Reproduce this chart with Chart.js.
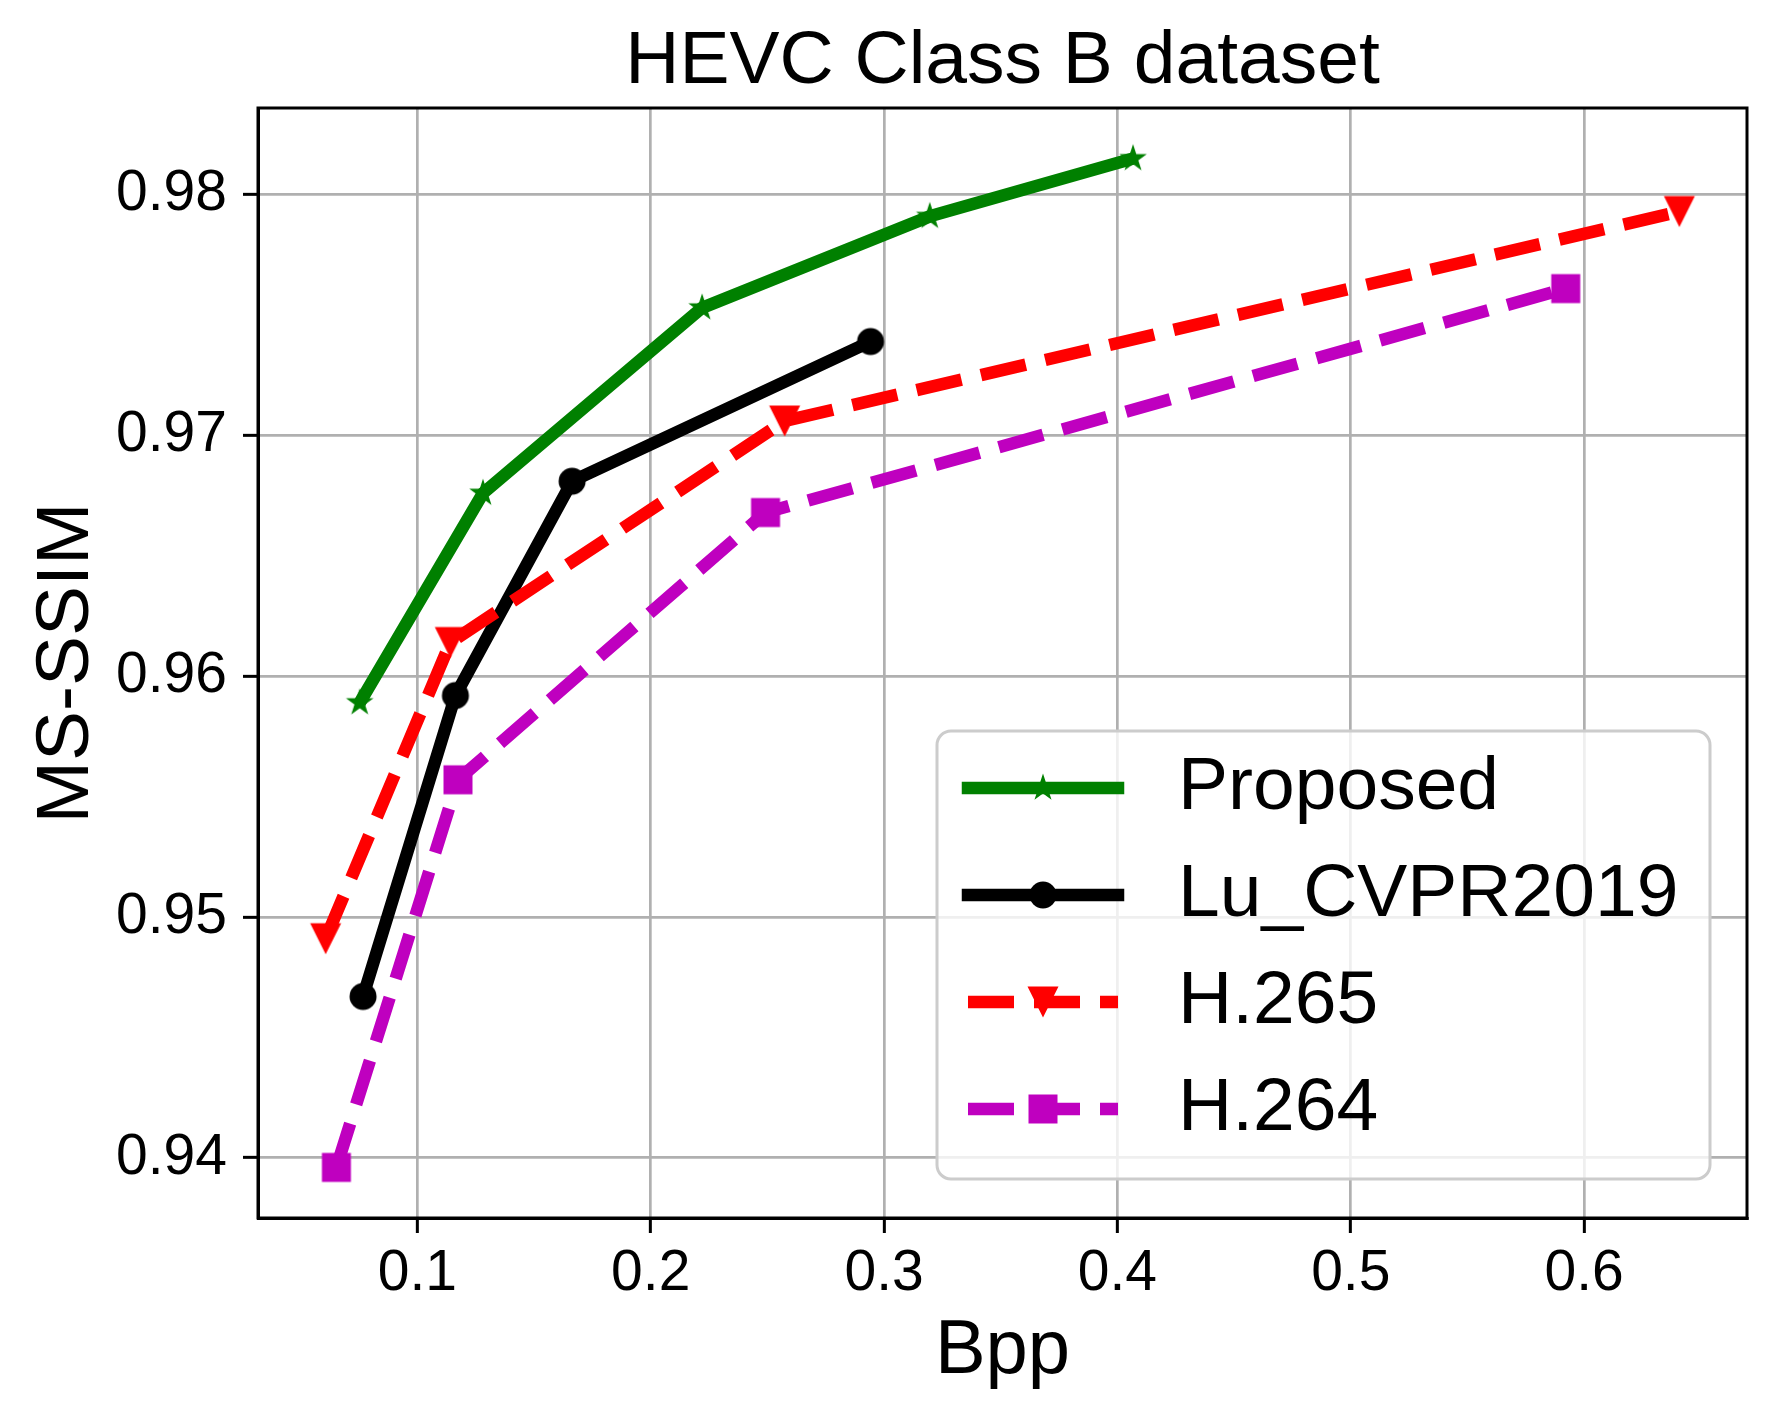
<!DOCTYPE html>
<html><head><meta charset="utf-8">
<script src="https://cdn.jsdelivr.net/npm/chart.js@4"></script>
<style>html,body{margin:0;padding:0;background:#fff;overflow:hidden}canvas{display:block}</style>
</head><body><canvas id="c" width="1776" height="1416" style="width:1776px;height:1416px"></canvas>
<script>
const titleText = 'HEVC Class B dataset';
const xLabel = 'Bpp';
const yLabel = 'MS-SSIM';
const xTicks = [0.1, 0.2, 0.3, 0.4, 0.5, 0.6];
const xTickLabels = ['0.1', '0.2', '0.3', '0.4', '0.5', '0.6'];
const yTicks = [0.94, 0.95, 0.96, 0.97, 0.98];
const yTickLabels = ['0.94', '0.95', '0.96', '0.97', '0.98'];
const seriesNames = ['Proposed', 'Lu_CVPR2019', 'H.265', 'H.264'];

const proposedX = [0.0753, 0.1281, 0.2220, 0.3196, 0.4067];
const proposedY = [0.9589, 0.9676, 0.9753, 0.9791, 0.9815];
const luX = [0.0767, 0.1163, 0.1663, 0.2942];
const luY = [0.9467, 0.9592, 0.9681, 0.9739];
const h265X = [0.0607, 0.1141, 0.2574, 0.6408];
const h265Y = [0.9491, 0.9614, 0.9706, 0.9793];
const h264X = [0.0653, 0.1174, 0.2492, 0.5921];
const h264Y = [0.9396, 0.9557, 0.9668, 0.9761];

const FONT = "'Liberation Sans', Arial, sans-serif";

function marker(shape, color) {
  const s = 40;
  const c = document.createElement('canvas');
  c.width = s; c.height = s;
  const g = c.getContext('2d');
  g.fillStyle = color;
  const m = s / 2;
  g.beginPath();
  if (shape === 'star') {
    const R = 14.5, r = R * 0.381966;
    for (let i = 0; i < 10; i++) {
      const a = -Math.PI / 2 + i * Math.PI / 5;
      const rr = (i % 2) ? r : R;
      g.lineTo(m + rr * Math.cos(a), m + rr * Math.sin(a));
    }
  } else if (shape === 'circle') {
    g.arc(m, m, 13.5, 0, 2 * Math.PI);
  } else if (shape === 'tri') {
    const h = 15.5;
    g.moveTo(m, m + h); g.lineTo(m - h, m - h); g.lineTo(m + h, m - h);
  } else {
    const h = 14.5;
    g.rect(m - h, m - h, 2 * h, 2 * h);
  }
  g.closePath();
  g.fill();
  return c;
}

const styles = [
  { color: '#008000', shape: 'star', dash: [] },
  { color: '#000000', shape: 'circle', dash: [] },
  { color: '#ff0000', shape: 'tri', dash: [46, 20] },
  { color: '#bf00bf', shape: 'square', dash: [46, 20] }
];
const xs = [proposedX, luX, h265X, h264X];
const ys = [proposedY, luY, h265Y, h264Y];

function pts(xa, ya) { return xa.map((x, i) => ({ x: x, y: ya[i] })); }

const datasets = seriesNames.map((name, i) => {
  const st = styles[i];
  const mk = marker(st.shape, st.color);
  return {
    label: name,
    data: pts(xs[i], ys[i]),
    borderColor: st.color,
    backgroundColor: st.color,
    borderWidth: 12.5,
    borderDash: st.dash,
    borderJoinStyle: 'round',
    borderCapStyle: 'butt',
    pointStyle: mk,
    pointRadius: 13,
    pointHoverRadius: 13,
    pointBorderWidth: 0,
    tension: 0,
    fill: false,
    order: 3 - i,
    _marker: mk,
    _dash: st.dash
  };
});

const framePlugin = {
  id: 'frame',
  afterDatasetsDraw(chart) {
    const { ctx, chartArea: a } = chart;
    ctx.save();
    ctx.strokeStyle = '#000';
    ctx.lineWidth = 3;
    ctx.strokeRect(a.left, a.top, a.right - a.left, a.bottom - a.top);
    ctx.restore();
  }
};

const legendPlugin = {
  id: 'mplLegend',
  afterDraw(chart) {
    const { ctx, chartArea: a } = chart;
    const right = a.right - 37, bottom = a.bottom - 39;
    const w = 773, h = 448, r = 14;
    const left = right - w, top = bottom - h;
    ctx.save();
    ctx.beginPath();
    ctx.moveTo(left + r, top);
    ctx.arcTo(right, top, right, bottom, r);
    ctx.arcTo(right, bottom, left, bottom, r);
    ctx.arcTo(left, bottom, left, top, r);
    ctx.arcTo(left, top, right, top, r);
    ctx.closePath();
    ctx.fillStyle = 'rgba(255,255,255,0.8)';
    ctx.fill();
    ctx.strokeStyle = '#cccccc';
    ctx.lineWidth = 3;
    ctx.stroke();
    const rowGap = 107;
    const firstRow = top + 57;
    chart.data.datasets.forEach((ds, i) => {
      const y = firstRow + i * rowGap;
      const x0 = left + 31, x1 = left + 181;
      ctx.beginPath();
      ctx.strokeStyle = ds.borderColor;
      ctx.lineWidth = ds.borderWidth;
      ctx.setLineDash(ds._dash);
      ctx.lineCap = ds._dash.length ? 'butt' : 'square';
      ctx.moveTo(x0, y); ctx.lineTo(x1, y);
      ctx.stroke();
      ctx.setLineDash([]);
      const mk = ds._marker;
      ctx.drawImage(mk, (x0 + x1) / 2 - mk.width / 2, y - mk.height / 2);
      ctx.fillStyle = '#000';
      ctx.font = '75px ' + FONT;
      ctx.textBaseline = 'middle';
      ctx.textAlign = 'left';
      ctx.fillText(ds.label, left + 241, y);
    });
    ctx.restore();
  }
};

new Chart(document.getElementById('c'), {
  type: 'line',
  data: { datasets: datasets },
  plugins: [framePlugin, legendPlugin],
  options: {
    responsive: false,
    maintainAspectRatio: false,
    devicePixelRatio: 1,
    animation: false,
    events: [],
    layout: { padding: { top: 0, right: 29, left: 0, bottom: 0 } },
    plugins: {
      legend: { display: false },
      tooltip: { enabled: false },
      title: {
        display: true,
        text: titleText,
        color: '#000',
        font: { family: FONT, size: 75, weight: 'normal', lineHeight: 1.2 },
        padding: { top: 17, bottom: 1 },
        fullSize: false
      }
    },
    scales: {
      x: {
        type: 'linear',
        min: 0.0317,
        max: 0.6698,
        afterBuildTicks: s => { s.ticks = xTicks.map(v => ({ value: v })); },
        afterFit: s => { s.height = 198; },
        ticks: {
          color: '#000',
          font: { family: FONT, size: 57 },
          padding: 7,
          maxRotation: 0,
          autoSkip: false,
          callback: (v, i) => xTickLabels[i]
        },
        grid: { color: '#b0b0b0', lineWidth: 2.7, tickColor: '#000', tickLength: 15, tickWidth: 3 },
        border: { display: true, color: '#000', width: 3 },
        title: { display: true, text: xLabel, color: '#000', font: { family: FONT, size: 76 }, padding: { top: 0, bottom: 18 } }
      },
      y: {
        type: 'linear',
        min: 0.9375,
        max: 0.9836,
        afterBuildTicks: s => { s.ticks = yTicks.map(v => ({ value: v })); },
        afterFit: s => { s.width = 258; },
        ticks: {
          color: '#000',
          font: { family: FONT, size: 57 },
          padding: 16,
          autoSkip: false,
          callback: (v, i) => yTickLabels[i]
        },
        grid: { color: '#b0b0b0', lineWidth: 2.7, tickColor: '#000', tickLength: 15, tickWidth: 3 },
        border: { display: true, color: '#000', width: 3 },
        title: { display: true, text: yLabel, color: '#000', font: { family: FONT, size: 75 }, padding: { top: 22, bottom: 0 } }
      }
    }
  }
});
</script>
</body></html>
